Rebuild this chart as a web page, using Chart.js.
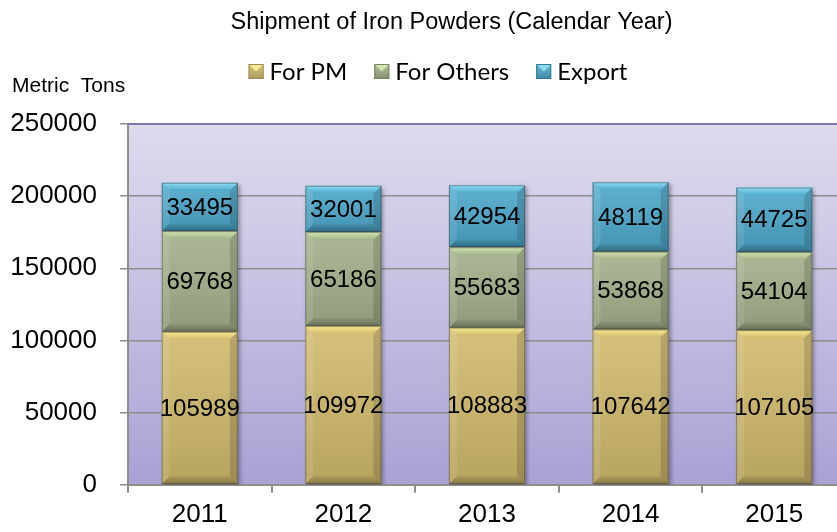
<!DOCTYPE html>
<html>
<head>
<meta charset="utf-8">
<script src="https://cdn.jsdelivr.net/npm/chart.js@4"></script>
<style>
  html, body { margin: 0; padding: 0; overflow: hidden; background: #ffffff; }
  #wrap { width: 846px; height: 539px; }
</style>
</head>
<body>
<div id="wrap"><canvas id="c" width="846" height="539"></canvas></div>
<script>
// ---- data ----
const categories = ['2011', '2012', '2013', '2014', '2015'];
const forPM = [105989, 109972, 108883, 107642, 107105];
const forOthers = [69768, 65186, 55683, 53868, 54104];
const exportVals = [33495, 32001, 42954, 48119, 44725];
const seriesNames = ['For PM', 'For Others', 'Export'];
const chartTitle = 'Shipment of Iron Powders (Calendar Year)';
const unitLabel = 'Metric  Tons';

// ---- styles ----
const bodyColors = ['#d0ba6c', '#a3b08a', '#4ca8ca'];
const lightColors = ['#f8ea92', '#d3e6b0', '#8fdcf2'];
const darkColors = ['#9e8a4c', '#7b8463', '#2f7d9c'];
const SANS = '"Liberation Sans", Arial, sans-serif';

function bevelRect(ctx, l, t, r, b, d, i) {
  const dd = Math.min(d, (b - t) / 2, (r - l) / 2);
  let g = ctx.createLinearGradient(0, t, 0, t + dd);
  g.addColorStop(0, lightColors[i]);
  g.addColorStop(1, bodyColors[i]);
  ctx.fillStyle = g;
  ctx.beginPath();
  ctx.moveTo(l, t); ctx.lineTo(r, t); ctx.lineTo(r - dd, t + dd); ctx.lineTo(l + dd, t + dd); ctx.closePath();
  ctx.fill();
  g = ctx.createLinearGradient(0, b - dd, 0, b);
  g.addColorStop(0, 'rgba(0,0,0,0.05)');
  g.addColorStop(1, 'rgba(0,0,0,0.28)');
  ctx.fillStyle = g;
  ctx.beginPath();
  ctx.moveTo(l, b); ctx.lineTo(r, b); ctx.lineTo(r - dd, b - dd); ctx.lineTo(l + dd, b - dd); ctx.closePath();
  ctx.fill();
  ctx.fillStyle = 'rgba(255,255,255,0.10)';
  ctx.beginPath();
  ctx.moveTo(l, t); ctx.lineTo(l + dd, t + dd); ctx.lineTo(l + dd, b - dd); ctx.lineTo(l, b); ctx.closePath();
  ctx.fill();
  ctx.fillStyle = 'rgba(0,0,0,0.14)';
  ctx.beginPath();
  ctx.moveTo(r, t); ctx.lineTo(r - dd, t + dd); ctx.lineTo(r - dd, b - dd); ctx.lineTo(r, b); ctx.closePath();
  ctx.fill();
  ctx.strokeStyle = 'rgba(60,60,60,0.45)';
  ctx.lineWidth = 1;
  ctx.strokeRect(l + 0.5, t + 0.5, r - l - 1, b - t - 1);
}

const decor = {
  id: 'decor',
  beforeDraw(chart) {
    const { ctx, chartArea: a } = chart;
    ctx.save();
    const g = ctx.createLinearGradient(0, a.top, 0, a.bottom);
    g.addColorStop(0, '#dedbed');
    g.addColorStop(0.5, '#c5bfe2');
    g.addColorStop(1, '#a8a2d5');
    ctx.fillStyle = g;
    ctx.fillRect(a.left, a.top, a.right - a.left, a.bottom - a.top);
    ctx.restore();
  },
  beforeDatasetsDraw(chart) {
    const ctx = chart.ctx;
    ctx.save();
    ctx.shadowColor = 'rgba(0,0,0,0.35)';
    ctx.shadowBlur = 4;
    ctx.shadowOffsetX = 2;
    ctx.shadowOffsetY = 2;
  },
  afterDatasetsDraw(chart) {
    const ctx = chart.ctx;
    ctx.restore();
    ctx.save();
    chart.data.datasets.forEach((ds, i) => {
      const meta = chart.getDatasetMeta(i);
      meta.data.forEach((el) => {
        const p = el.getProps(['x', 'y', 'base', 'width'], true);
        const l = p.x - p.width / 2, r = p.x + p.width / 2;
        const t = Math.min(p.y, p.base), b = Math.max(p.y, p.base);
        const g = ctx.createLinearGradient(0, t, 0, b);
        g.addColorStop(0, 'rgba(255,255,255,0.10)');
        g.addColorStop(1, 'rgba(0,0,0,0.12)');
        ctx.fillStyle = g;
        ctx.fillRect(l, t, r - l, b - t);
        bevelRect(ctx, l, t, r, b, 8, i);
      });
    });
    ctx.fillStyle = '#000';
    ctx.font = '24px ' + SANS;
    ctx.textAlign = 'center';
    ctx.textBaseline = 'middle';
    chart.data.datasets.forEach((ds, i) => {
      const meta = chart.getDatasetMeta(i);
      meta.data.forEach((el, j) => {
        const p = el.getProps(['x', 'y', 'base'], true);
        ctx.fillText(String(ds.data[j]), p.x, (p.y + p.base) / 2 + 1);
      });
    });
    ctx.restore();
  },
  afterDraw(chart) {
    const { ctx, chartArea: a } = chart;
    ctx.save();
    ctx.strokeStyle = '#7d76b5';
    ctx.lineWidth = 2;
    ctx.beginPath();
    ctx.moveTo(a.left, a.top);
    ctx.lineTo(a.right, a.top);
    ctx.stroke();
    ctx.fillStyle = '#000';
    ctx.font = '23.5px ' + SANS;
    ctx.textAlign = 'center';
    ctx.textBaseline = 'alphabetic';
    ctx.fillText(chartTitle, 451.5, 28.5);
    ctx.font = '21px ' + SANS;
    ctx.textAlign = 'left';
    ctx.fillText(unitLabel, 12, 92);
    ctx.font = '24px Lato, "Open Sans", sans-serif';
    const box = 15, gapText = 6, gapItem = 27;
    const widths = seriesNames.map(s => ctx.measureText(s).width);
    let total = 0;
    widths.forEach((w, i) => { total += box + gapText + w + (i < widths.length - 1 ? gapItem : 0); });
    let x = 438 - total / 2;
    const boxTop = 64;
    seriesNames.forEach((s, i) => {
      ctx.fillStyle = bodyColors[i];
      ctx.fillRect(x, boxTop, box, box);
      const g = ctx.createLinearGradient(0, boxTop, 0, boxTop + box);
      g.addColorStop(0, 'rgba(255,255,255,0.1)');
      g.addColorStop(1, 'rgba(0,0,0,0.2)');
      ctx.fillStyle = g;
      ctx.fillRect(x, boxTop, box, box);
      ctx.fillStyle = lightColors[i];
      ctx.beginPath();
      ctx.moveTo(x, boxTop); ctx.lineTo(x + box, boxTop); ctx.lineTo(x + box / 2, boxTop + box / 2); ctx.closePath();
      ctx.fill();
      ctx.strokeStyle = darkColors[i];
      ctx.lineWidth = 1;
      ctx.strokeRect(x + 0.5, boxTop + 0.5, box - 1, box - 1);
      x += box + gapText;
      ctx.fillStyle = '#000';
      ctx.textAlign = 'left';
      ctx.fillText(s, x, 80);
      x += widths[i] + gapItem;
    });
    ctx.restore();
  }
};

new Chart(document.getElementById('c'), {
  type: 'bar',
  data: {
    labels: categories,
    datasets: [
      { label: seriesNames[0], data: forPM, backgroundColor: bodyColors[0], borderWidth: 0 },
      { label: seriesNames[1], data: forOthers, backgroundColor: bodyColors[1], borderWidth: 0 },
      { label: seriesNames[2], data: exportVals, backgroundColor: bodyColors[2], borderWidth: 0 }
    ]
  },
  options: {
    responsive: false,
    animation: false,
    events: [],
    layout: { padding: { top: 124, left: 10, right: 0, bottom: 3 } },
    datasets: { bar: { categoryPercentage: 1.0, barPercentage: 0.53 } },
    plugins: {
      legend: { display: false },
      title: { display: false },
      tooltip: { enabled: false }
    },
    scales: {
      x: {
        stacked: true,
        offset: true,
        grid: { offset: true, drawOnChartArea: false, drawTicks: true, tickLength: 8, color: '#8e8e8e', lineWidth: 2 },
        border: { display: true, color: '#8e8e8e', width: 2 },
        ticks: { color: '#000', font: { family: SANS, size: 26 }, padding: 6 }
      },
      y: {
        stacked: true,
        min: 0,
        max: 250000,
        afterFit: (scale) => { scale.width = 118; },
        grid: { color: '#8e8e8e', lineWidth: 1.5, tickLength: 8 },
        border: { display: true, color: '#8e8e8e', width: 2 },
        ticks: { stepSize: 50000, color: '#000', font: { family: SANS, size: 26 }, padding: 23,
                 callback: (v) => String(v) }
      }
    }
  },
  plugins: [decor]
});
</script>
</body>
</html>
